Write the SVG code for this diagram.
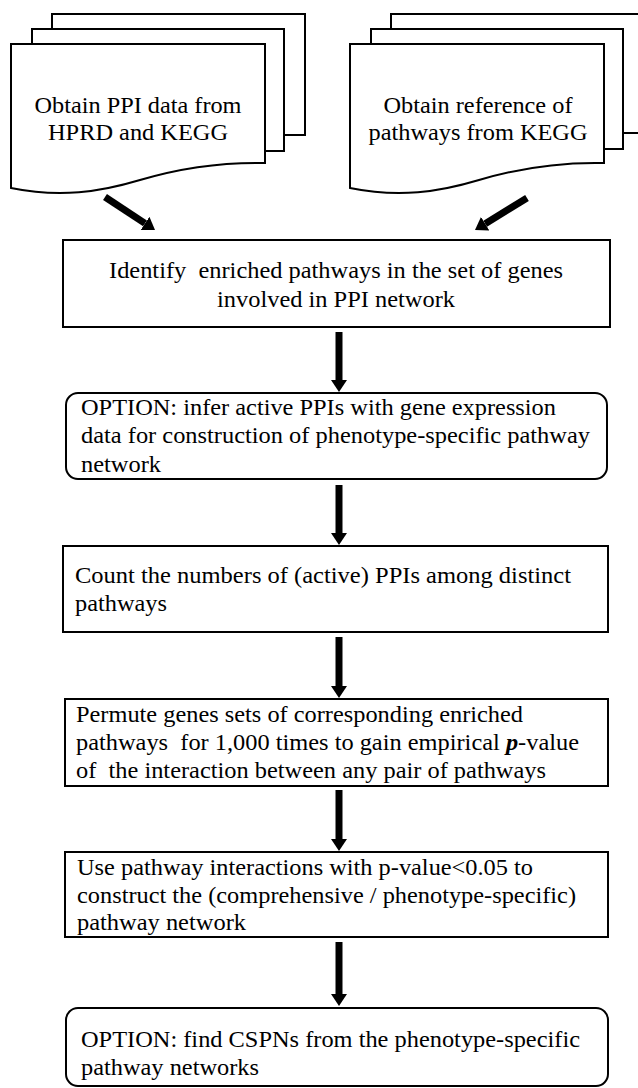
<svg xmlns="http://www.w3.org/2000/svg" width="638" height="1088" viewBox="0 0 638 1088">
<style>
.sh{fill:#fff;stroke:#000;stroke-width:2}
.ln{fill:none;stroke:#000;stroke-width:2}
.t{font-family:'Liberation Serif','DejaVu Serif','Times New Roman',serif;font-size:23px;fill:#000;white-space:pre}
.c{text-anchor:middle}
.ar{stroke:#000;stroke-width:7;fill:none}
</style>
<defs>
<marker id="ah" viewBox="0 0 12 16" refX="0" refY="8" markerWidth="12" markerHeight="16" markerUnits="userSpaceOnUse" orient="auto">
<path d="M0,0 L12,8 L0,16 z" fill="#000"/>
</marker>
</defs>
<rect width="638" height="1088" fill="#fff"/>

<g id="doc-ppi">
<path class="sh" d="M52,29 V14 H305 V135 H284"/>
<path class="sh" d="M32,44 V29 H284 V151 H265"/>
<path class="sh" d="M11,44 H265 V163 C220,162 180,168 140,180 C100,192 60,198 11,188 Z"/>
<text class="t c" x="138" y="113" textLength="207" lengthAdjust="spacingAndGlyphs">Obtain PPI data from</text>
<text class="t c" x="138" y="140" textLength="180" lengthAdjust="spacingAndGlyphs">HPRD and KEGG</text>
</g>

<g id="doc-kegg">
<path class="sh" d="M391,29 V14 H650 V133 H623"/>
<path class="sh" d="M371,44 V29 H623 V149 H604"/>
<path class="sh" d="M350,44 H604 V163 C559,162 519,168 479,180 C439,192 399,198 350,188 Z"/>
<text class="t c" x="478" y="113" textLength="189" lengthAdjust="spacingAndGlyphs">Obtain reference of</text>
<text class="t c" x="478" y="140" textLength="219" lengthAdjust="spacingAndGlyphs">pathways from KEGG</text>
</g>

<g id="identify">
<rect class="sh" x="63" y="240" width="547" height="87"/>
<text class="t c" x="336" y="278" textLength="454" lengthAdjust="spacingAndGlyphs">Identify  enriched pathways in the set of genes</text>
<text class="t c" x="336" y="307" textLength="238" lengthAdjust="spacingAndGlyphs">involved in PPI network</text>
</g>

<g id="option-infer">
<rect class="sh" x="66" y="393" width="541" height="86" rx="12" ry="12"/>
<text class="t" x="81" y="415" textLength="475" lengthAdjust="spacingAndGlyphs">OPTION: infer active PPIs with gene expression</text>
<text class="t" x="81" y="443" textLength="509" lengthAdjust="spacingAndGlyphs">data for construction of phenotype-specific pathway</text>
<text class="t" x="81" y="472" textLength="80" lengthAdjust="spacingAndGlyphs">network</text>
</g>

<g id="count">
<rect class="sh" x="63" y="546" width="545" height="86"/>
<text class="t" x="75" y="583" textLength="496" lengthAdjust="spacingAndGlyphs">Count the numbers of (active) PPIs among distinct</text>
<text class="t" x="75" y="611" textLength="92" lengthAdjust="spacingAndGlyphs">pathways</text>
</g>

<g id="permute">
<text class="t" x="76" y="722" textLength="447" lengthAdjust="spacingAndGlyphs">Permute genes sets of corresponding enriched</text>
<text class="t" x="76" y="750" textLength="503" lengthAdjust="spacingAndGlyphs">pathways  for 1,000 times to gain empirical <tspan font-style="italic" font-weight="bold">p</tspan>-value</text>
<text class="t" x="76" y="778" textLength="470" lengthAdjust="spacingAndGlyphs">of  the interaction between any pair of pathways</text>
<rect class="ln" x="65" y="699" width="543" height="87"/>
</g>

<g id="use">
<text class="t" x="77" y="875" textLength="456" lengthAdjust="spacingAndGlyphs">Use pathway interactions with p-value&lt;0.05 to</text>
<text class="t" x="77" y="903" textLength="499" lengthAdjust="spacingAndGlyphs">construct the (comprehensive / phenotype-specific)</text>
<text class="t" x="77" y="930" textLength="169" lengthAdjust="spacingAndGlyphs">pathway network</text>
<rect class="ln" x="65" y="852" width="543" height="85"/>
</g>

<g id="option-cspn">
<rect class="sh" x="66" y="1008" width="542" height="78" rx="12" ry="12"/>
<text class="t" x="81" y="1047" textLength="499" lengthAdjust="spacingAndGlyphs">OPTION: find CSPNs from the phenotype-specific</text>
<text class="t" x="81" y="1075" textLength="178" lengthAdjust="spacingAndGlyphs">pathway networks</text>
</g>

<g id="connectors">
<line class="ar" x1="105" y1="197" x2="145" y2="223.4" marker-end="url(#ah)"/>
<line class="ar" x1="527" y1="198" x2="485.2" y2="223.7" marker-end="url(#ah)"/>
<line class="ar" x1="339" y1="332" x2="339" y2="380" marker-end="url(#ah)"/>
<line class="ar" x1="339" y1="485" x2="339" y2="533" marker-end="url(#ah)"/>
<line class="ar" x1="339" y1="637" x2="339" y2="686" marker-end="url(#ah)"/>
<line class="ar" x1="339" y1="790" x2="339" y2="839" marker-end="url(#ah)"/>
<line class="ar" x1="339" y1="942" x2="339" y2="994" marker-end="url(#ah)"/>
</g>
</svg>
